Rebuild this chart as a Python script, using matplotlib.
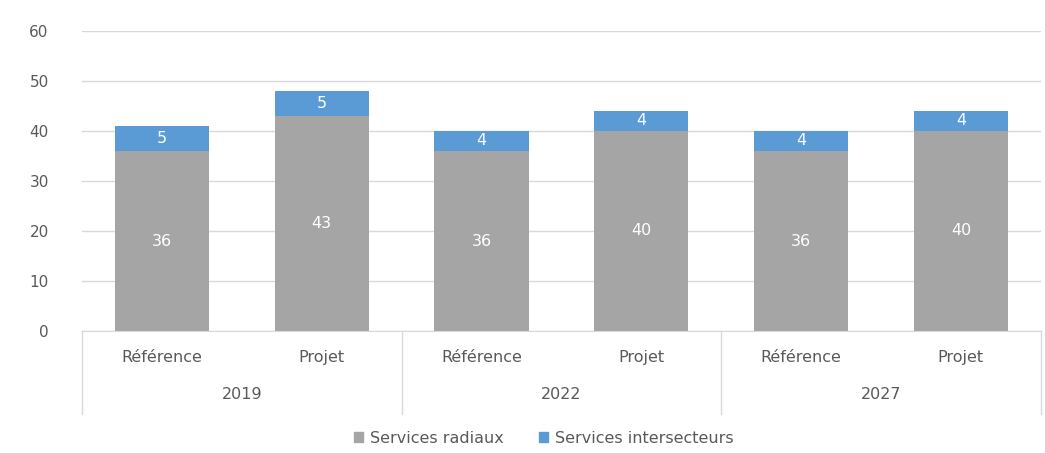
import matplotlib.pyplot as plt
import matplotlib.transforms as mtransforms
from matplotlib.patches import Patch

annees = ["2019", "2022", "2027"]
scenarios = ["Référence", "Projet"]
radiaux = [36, 43, 36, 40, 36, 40]
intersecteurs = [5, 5, 4, 4, 4, 4]

gris = "#A5A5A5"
bleu = "#5B9BD5"
texte = "#595959"
fs = 11.5

fig = plt.figure(figsize=(10.45, 4.53), dpi=100)
ax = fig.add_axes([0.0785, 0.2693, 0.9175, 0.6623])

x = list(range(len(radiaux)))
b1 = ax.bar(x, radiaux, width=0.59, color=gris, zorder=2)
b2 = ax.bar(x, intersecteurs, width=0.59, bottom=radiaux, color=bleu, zorder=2)
ax.bar_label(b1, label_type="center", color="white", fontsize=fs)
ax.bar_label(b2, label_type="center", color="white", fontsize=fs)

ax.set_xlim(-0.5, len(x) - 0.5)
ax.set_ylim(0, 60)
ax.set_yticks(range(0, 61, 10))
ax.yaxis.grid(True, color="#D9D9D9", linewidth=1)
ax.set_axisbelow(True)
for s in ["top", "right", "left"]:
    ax.spines[s].set_visible(False)
ax.spines["bottom"].set_color("#D9D9D9")
ax.tick_params(axis="y", length=0, colors=texte, labelsize=11, pad=24)
ax.set_xticks([])

# axe des catégories à deux niveaux
trans = mtransforms.blended_transform_factory(ax.transData, ax.transAxes)
for i in x:
    ax.text(i, -0.087, scenarios[i % 2], transform=trans, ha="center", va="center",
            color=texte, fontsize=fs)
for g, an in enumerate(annees):
    ax.text(2 * g + 0.5, -0.213, an, transform=trans, ha="center", va="center",
            color=texte, fontsize=fs)
for b in [-0.5, 1.5, 3.5, 5.5]:
    ax.plot([b, b], [0, -0.275], transform=trans, color="#D9D9D9", linewidth=1, clip_on=False)

handles = [Patch(color=gris, label="Services radiaux"),
           Patch(color=bleu, label="Services intersecteurs")]
leg = fig.legend(handles=handles, loc="center", bbox_to_anchor=(0.52, 0.033), ncol=2,
                 frameon=False, fontsize=fs, handlelength=0.6, handleheight=0.6,
                 handletextpad=0.4, columnspacing=2.2)
for t in leg.get_texts():
    t.set_color(texte)

fig.savefig("out.png", dpi=100)
